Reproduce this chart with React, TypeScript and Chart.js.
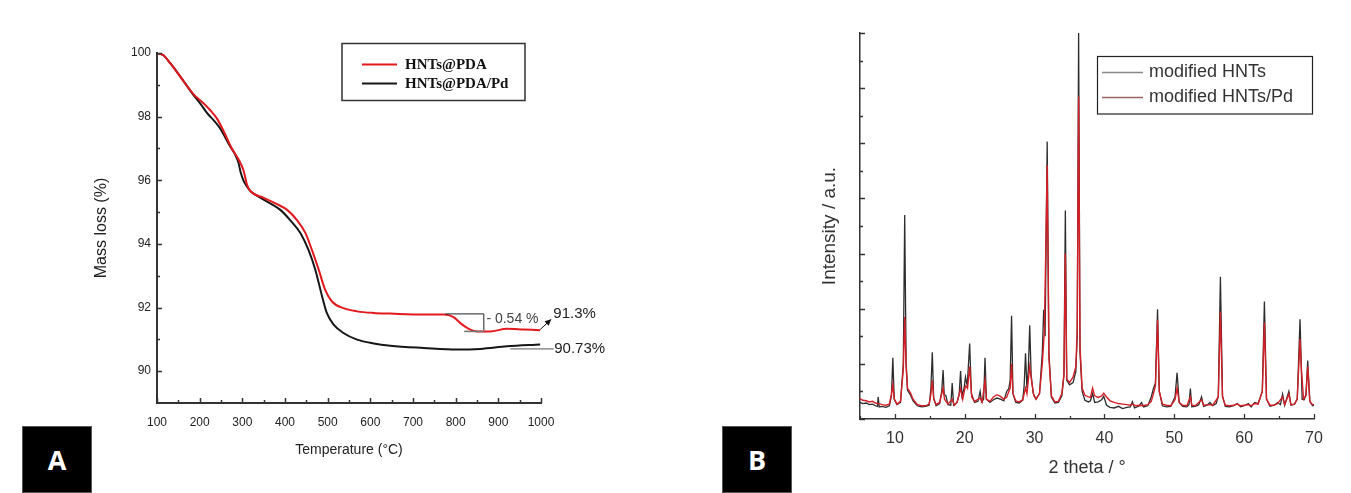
import React, { useEffect, useRef } from "react";
import { Chart, registerables } from "chart.js";

Chart.register(...registerables);

// ---------------- Panel A : TGA ----------------
const tgaPdaTemp = [100, 115, 131, 155, 186, 209, 225, 241, 256, 276, 291, 303, 311, 319, 350, 381, 405, 428, 448, 463, 479, 494, 510, 537, 569, 608, 647, 725, 772, 795, 811, 827, 850, 881, 920, 959, 998];
const tgaPdaMass = [100, 99.93, 99.68, 99.25, 98.7, 98.42, 98.2, 97.93, 97.55, 96.98, 96.66, 96.3, 95.86, 95.66, 95.45, 95.25, 95.07, 94.75, 94.34, 93.81, 93.19, 92.56, 92.19, 91.98, 91.88, 91.83, 91.81, 91.78, 91.78, 91.7, 91.51, 91.36, 91.25, 91.25, 91.33, 91.31, 91.29];
const tgaPdaPdTemp = [100, 115, 131, 155, 186, 202, 217, 233, 248, 272, 284, 291, 296, 303, 310, 319, 334, 358, 389, 412, 436, 455, 471, 487, 498, 514, 537, 569, 608, 647, 725, 803, 858, 920, 998];
const tgaPdaPdMass = [100, 99.93, 99.68, 99.25, 98.67, 98.4, 98.12, 97.88, 97.63, 97.05, 96.79, 96.55, 96.25, 95.98, 95.82, 95.66, 95.52, 95.33, 95.07, 94.75, 94.34, 93.81, 93.19, 92.35, 91.83, 91.46, 91.2, 90.99, 90.87, 90.8, 90.73, 90.68, 90.7, 90.78, 90.84];
const tgaXTicks = [100, 200, 300, 400, 500, 600, 700, 800, 900, 1000];
const tgaXMinor = [150, 250, 350, 450, 550, 650, 750, 850, 950];
const tgaYTicks = [90, 92, 94, 96, 98, 100];
const tgaYMinor = [91, 93, 95, 97, 99];
const tgaLegend = ["HNTs@PDA", "HNTs@PDA/Pd"];
const stepLossText = "- 0.54 %";
const pdaFinalText = "91.3%";
const pdaPdFinalText = "90.73%";

// ---------------- Panel B : XRD ----------------
const hntsPattern: [number, number][] = [
  [5.0, 0.3], [5.4, 0.28], [5.9, 0.29], [6.3, 0.26], [6.8, 0.27], [7.2, 0.24], [7.5, 0.23], [7.6, 0.4], [7.75, 0.22],
  [8.2, 0.23], [8.7, 0.21], [9.2, 0.24], [9.5, 0.42], [9.7, 1.11], [9.9, 0.36], [10.3, 0.26], [10.8, 0.3],
  [11.2, 1.0], [11.4, 3.7], [11.6, 1.05], [11.8, 0.52], [12.2, 0.44], [12.6, 0.33], [13.2, 0.24], [13.8, 0.22],
  [14.4, 0.23], [14.9, 0.25], [15.15, 0.55], [15.35, 1.21], [15.55, 0.38], [15.9, 0.24], [16.4, 0.28], [16.7, 0.5],
  [16.9, 0.89], [17.05, 0.45], [17.3, 0.42], [17.6, 0.26], [18.0, 0.25], [18.2, 0.65], [18.4, 0.25], [18.9, 0.3],
  [19.2, 0.45], [19.4, 0.87], [19.6, 0.42], [19.9, 0.56], [20.1, 0.76], [20.35, 0.6], [20.7, 1.37], [20.95, 0.46],
  [21.4, 0.3], [21.9, 0.32], [22.2, 0.5], [22.4, 0.31], [22.7, 0.36], [22.9, 1.11], [23.1, 0.36], [23.6, 0.3],
  [24.1, 0.35], [24.6, 0.38], [25.1, 0.36], [25.6, 0.33], [26.0, 0.5], [26.3, 0.55], [26.5, 0.7], [26.7, 1.87],
  [26.9, 0.46], [27.3, 0.3], [27.8, 0.29], [28.3, 0.34], [28.5, 0.6], [28.7, 1.19], [28.9, 0.56], [29.1, 0.9],
  [29.3, 1.7], [29.5, 0.8], [29.8, 0.46], [30.2, 0.36], [30.7, 0.46], [31.1, 1.2], [31.3, 1.98], [31.5, 1.5],
  [31.8, 5.03], [32.05, 1.2], [32.4, 0.4], [32.9, 0.29], [33.4, 0.3], [33.9, 0.42], [34.2, 0.8], [34.4, 3.78],
  [34.6, 0.7], [35.0, 0.62], [35.5, 0.66], [35.9, 0.86], [36.1, 1.5], [36.3, 7.0], [36.5, 1.2], [36.8, 0.5],
  [37.2, 0.34], [37.7, 0.31], [38.0, 0.33], [38.3, 0.46], [38.6, 0.3], [39.1, 0.31], [39.6, 0.35], [39.9, 0.41],
  [40.3, 0.25], [40.8, 0.21], [41.4, 0.2], [42.0, 0.23], [42.6, 0.19], [43.2, 0.21], [43.7, 0.22], [44.0, 0.31],
  [44.3, 0.2], [44.9, 0.23], [45.3, 0.3], [45.6, 0.22], [46.2, 0.24], [46.7, 0.4], [47.0, 0.55], [47.3, 0.65],
  [47.6, 1.99], [47.85, 0.5], [48.3, 0.24], [48.9, 0.22], [49.5, 0.23], [50.1, 0.4], [50.4, 0.84], [50.7, 0.3],
  [51.2, 0.23], [51.8, 0.22], [52.1, 0.26], [52.3, 0.55], [52.5, 0.22], [53.0, 0.23], [53.5, 0.26], [53.9, 0.4],
  [54.2, 0.23], [54.7, 0.25], [55.1, 0.3], [55.5, 0.24], [56.0, 0.28], [56.3, 0.42], [56.6, 2.58], [56.9, 0.42],
  [57.3, 0.23], [57.9, 0.22], [58.5, 0.24], [59.0, 0.28], [59.5, 0.22], [60.0, 0.24], [60.6, 0.28], [61.0, 0.22],
  [61.5, 0.3], [62.0, 0.28], [62.6, 0.5], [62.9, 2.13], [63.2, 0.36], [63.7, 0.23], [64.3, 0.25], [64.8, 0.3],
  [65.2, 0.26], [65.5, 0.45], [65.8, 0.25], [66.4, 0.5], [66.7, 0.25], [67.2, 0.27], [67.6, 0.36], [68.0, 1.81],
  [68.3, 0.36], [68.6, 0.35], [68.85, 0.45], [69.1, 1.06], [69.4, 0.32], [69.8, 0.24], [70.0, 0.25],
];
const hntsPdPattern: [number, number][] = [
  [5.0, 0.37], [5.4, 0.34], [5.9, 0.33], [6.3, 0.31], [6.8, 0.32], [7.2, 0.29], [7.6, 0.28], [8.2, 0.26],
  [8.7, 0.25], [9.2, 0.27], [9.5, 0.45], [9.7, 0.62], [9.9, 0.36], [10.3, 0.27], [10.8, 0.32], [11.2, 0.9],
  [11.4, 1.85], [11.6, 0.95], [11.8, 0.56], [12.2, 0.48], [12.6, 0.36], [13.2, 0.26], [13.8, 0.24], [14.4, 0.24],
  [14.9, 0.27], [15.15, 0.45], [15.35, 0.7], [15.55, 0.36], [15.9, 0.26], [16.4, 0.3], [16.9, 0.56], [17.1, 0.36],
  [17.6, 0.27], [18.2, 0.36], [18.5, 0.25], [18.9, 0.3], [19.4, 0.55], [19.7, 0.36], [20.1, 0.6], [20.4, 0.56],
  [20.7, 0.95], [21.0, 0.4], [21.4, 0.32], [22.2, 0.38], [22.5, 0.31], [22.9, 0.7], [23.1, 0.36], [23.6, 0.32],
  [24.1, 0.4], [24.6, 0.44], [25.1, 0.41], [25.6, 0.36], [26.0, 0.4], [26.5, 0.56], [26.7, 1.0], [26.9, 0.46],
  [27.3, 0.33], [27.8, 0.31], [28.3, 0.35], [28.7, 0.56], [28.9, 0.46], [29.3, 0.95], [29.6, 0.66], [29.9, 0.42],
  [30.2, 0.36], [30.7, 0.46], [31.1, 1.0], [31.4, 1.6], [31.8, 4.6], [32.05, 1.1], [32.4, 0.42], [32.9, 0.31],
  [33.4, 0.32], [33.9, 0.46], [34.2, 0.8], [34.4, 3.0], [34.6, 0.72], [35.0, 0.66], [35.5, 0.76], [35.9, 0.95],
  [36.1, 1.6], [36.3, 5.85], [36.5, 1.3], [36.8, 0.56], [37.2, 0.43], [37.7, 0.4], [38.0, 0.39], [38.3, 0.56],
  [38.6, 0.42], [39.1, 0.39], [39.6, 0.42], [39.9, 0.47], [40.3, 0.4], [40.8, 0.33], [41.4, 0.3], [42.0, 0.28],
  [42.6, 0.27], [43.2, 0.26], [43.7, 0.25], [44.0, 0.27], [44.5, 0.24], [45.0, 0.25], [45.5, 0.24], [46.2, 0.26],
  [46.7, 0.32], [47.0, 0.45], [47.3, 0.6], [47.6, 1.8], [47.85, 0.5], [48.3, 0.27], [48.9, 0.25], [49.5, 0.24],
  [50.1, 0.35], [50.4, 0.56], [50.7, 0.3], [51.2, 0.25], [51.8, 0.24], [52.3, 0.4], [52.5, 0.25], [53.0, 0.24],
  [53.9, 0.35], [54.2, 0.25], [55.0, 0.26], [55.5, 0.25], [56.3, 0.4], [56.6, 1.95], [56.9, 0.4], [57.3, 0.25],
  [57.9, 0.24], [58.5, 0.25], [59.0, 0.27], [59.5, 0.24], [60.0, 0.25], [60.6, 0.26], [61.0, 0.24], [61.5, 0.28],
  [62.0, 0.27], [62.6, 0.5], [62.9, 1.75], [63.2, 0.36], [63.7, 0.25], [64.3, 0.25], [64.8, 0.28], [65.5, 0.4],
  [65.8, 0.26], [66.4, 0.45], [66.7, 0.26], [67.2, 0.27], [67.6, 0.36], [68.0, 1.45], [68.2, 0.9], [68.5, 0.36],
  [68.85, 0.42], [69.1, 0.95], [69.4, 0.32], [69.8, 0.26], [70.0, 0.26],
];
const xrdXTicks = [10, 20, 30, 40, 50, 60, 70];
const xrdXMinor = [5, 15, 25, 35, 45, 55, 65];
const xrdYTicks = [0, 1, 2, 3, 4, 5, 6, 7];
const xrdYMinor = [0.5, 1.5, 2.5, 3.5, 4.5, 5.5, 6.5];
const xrdLegend = ["modified HNTs", "modified HNTs/Pd"];

const SANS = "'Liberation Sans', Arial, sans-serif";
const NARROW = "'Liberation Sans Narrow', 'Arial Narrow', 'Liberation Sans', sans-serif";
const SERIF = "'Liberation Serif', 'Times New Roman', serif";

const RED_A = "#e3191e";
const BLACK_A = "#161616";
const RED_B = "#d41f26";
const BLACK_B = "#2d2d2d";

function inwardTicks(id: string, o: any) {
  return {
    id,
    afterDatasetsDraw(chart: any) {
      const { ctx, chartArea: a, scales } = chart;
      ctx.save();
      ctx.strokeStyle = o.color;
      ctx.lineWidth = o.width;
      ctx.beginPath();
      const xs = (vals: number[], len: number) => {
        vals.forEach((v) => {
          const p = Math.round(scales.x.getPixelForValue(v)) + 0.5;
          ctx.moveTo(p, a.bottom);
          ctx.lineTo(p, a.bottom - len);
        });
      };
      const ys = (vals: number[], len: number) => {
        vals.forEach((v) => {
          const p = Math.round(scales.y.getPixelForValue(v)) + 0.5;
          ctx.moveTo(a.left, p);
          ctx.lineTo(a.left + len, p);
        });
      };
      xs(o.xMajor, o.major);
      xs(o.xMinor, o.minor);
      ys(o.yMajor, o.major);
      ys(o.yMinor, o.minor);
      ctx.stroke();
      ctx.restore();
    },
  };
}

const tgaDecor = {
  id: "tgaDecor",
  afterDatasetsDraw(chart: any) {
    const { ctx, scales } = chart;
    const px = (v: number) => scales.x.getPixelForValue(v);
    const py = (v: number) => scales.y.getPixelForValue(v);
    ctx.save();
    // bracket for the step loss
    ctx.strokeStyle = "#222";
    ctx.lineWidth = 1;
    ctx.beginPath();
    ctx.moveTo(px(776), py(91.8));
    ctx.lineTo(px(866), py(91.8));
    ctx.lineTo(px(866), py(91.28));
    ctx.stroke();
    ctx.strokeStyle = "#777";
    ctx.lineWidth = 1.6;
    ctx.beginPath();
    ctx.moveTo(px(820), py(91.25));
    ctx.lineTo(px(866), py(91.25));
    ctx.stroke();
    // leader for 90.73 %
    ctx.strokeStyle = "#555";
    ctx.lineWidth = 1;
    ctx.beginPath();
    ctx.moveTo(px(928), py(90.7));
    ctx.lineTo(px(1030), py(90.7));
    ctx.stroke();
    // arrow for 91.3 %
    const x0 = px(998), y0 = py(91.31), x1 = px(1024), y1 = py(91.63);
    ctx.strokeStyle = "#111";
    ctx.fillStyle = "#111";
    ctx.lineWidth = 1;
    ctx.beginPath();
    ctx.moveTo(x0, y0);
    ctx.lineTo(x1, y1);
    ctx.stroke();
    const ang = Math.atan2(y1 - y0, x1 - x0);
    ctx.beginPath();
    ctx.moveTo(x1, y1);
    ctx.lineTo(x1 - 7 * Math.cos(ang - 0.45), y1 - 7 * Math.sin(ang - 0.45));
    ctx.lineTo(x1 - 7 * Math.cos(ang + 0.45), y1 - 7 * Math.sin(ang + 0.45));
    ctx.closePath();
    ctx.fill();
    // texts
    ctx.textBaseline = "middle";
    ctx.textAlign = "left";
    ctx.fillStyle = "#444";
    ctx.font = `14px ${NARROW}`;
    ctx.fillText(stepLossText, px(872), py(91.62));
    ctx.fillStyle = "#222";
    ctx.font = `15px ${SANS}`;
    ctx.fillText(pdaFinalText, px(1029), py(91.8));
    ctx.fillText(pdaPdFinalText, px(1031), py(90.7));
    // legend
    ctx.strokeStyle = "#333";
    ctx.lineWidth = 1.5;
    ctx.strokeRect(342, 43.5, 183, 57);
    ctx.lineWidth = 2;
    ctx.strokeStyle = RED_A;
    ctx.beginPath();
    ctx.moveTo(362, 64.5);
    ctx.lineTo(397, 64.5);
    ctx.stroke();
    ctx.strokeStyle = BLACK_A;
    ctx.beginPath();
    ctx.moveTo(362, 83.5);
    ctx.lineTo(397, 83.5);
    ctx.stroke();
    ctx.fillStyle = "#111";
    ctx.font = `bold 15px ${SERIF}`;
    ctx.fillText(tgaLegend[0], 405, 65);
    ctx.fillText(tgaLegend[1], 405, 84);
    ctx.restore();
  },
};

const xrdLegendPlugin = {
  id: "xrdLegend",
  afterDatasetsDraw(chart: any) {
    const { ctx } = chart;
    ctx.save();
    ctx.fillStyle = "#fff";
    ctx.fillRect(397.5, 56.5, 215, 57.5);
    ctx.strokeStyle = "#222";
    ctx.lineWidth = 1.2;
    ctx.strokeRect(397.5, 56.5, 215, 57.5);
    ctx.lineWidth = 1.3;
    ctx.strokeStyle = "#8a8a8a";
    ctx.beginPath();
    ctx.moveTo(402, 72.5);
    ctx.lineTo(443, 72.5);
    ctx.stroke();
    ctx.strokeStyle = "#9a6464";
    ctx.beginPath();
    ctx.moveTo(402, 97.5);
    ctx.lineTo(443, 97.5);
    ctx.stroke();
    ctx.fillStyle = "#333";
    ctx.font = `18px ${SANS}`;
    ctx.textBaseline = "middle";
    ctx.fillText(xrdLegend[0], 449, 72);
    ctx.fillText(xrdLegend[1], 449, 97);
    ctx.restore();
  },
};

const plainLabel = (v: any) => String(v);

function makeTga(canvas: HTMLCanvasElement) {
  return new Chart(canvas, {
    type: "line",
    data: {
      datasets: [
        {
          label: tgaLegend[0],
          data: tgaPdaTemp.map((t, i) => ({ x: t, y: tgaPdaMass[i] })),
          borderColor: RED_A,
          borderWidth: 2,
          pointRadius: 0,
          cubicInterpolationMode: "monotone",
          order: 0,
        },
        {
          label: tgaLegend[1],
          data: tgaPdaPdTemp.map((t, i) => ({ x: t, y: tgaPdaPdMass[i] })),
          borderColor: BLACK_A,
          borderWidth: 2,
          pointRadius: 0,
          cubicInterpolationMode: "monotone",
          order: 1,
        },
      ],
    },
    options: {
      responsive: false,
      animation: false,
      layout: { padding: { left: 0, top: 53, right: 159, bottom: 0 } },
      plugins: { legend: { display: false }, tooltip: { enabled: false } },
      scales: {
        x: {
          type: "linear",
          min: 100,
          max: 1000,
          afterBuildTicks: (s: any) => {
            s.ticks = tgaXTicks.map((v) => ({ value: v }));
          },
          afterFit: (s: any) => {
            s.height = 90;
          },
          grid: { display: false, drawTicks: false },
          border: { display: true, color: "#333", width: 2 },
          ticks: { padding: 12, color: "#222", autoSkip: false, maxRotation: 0, callback: plainLabel, font: { family: NARROW, size: 12 } },
          title: {
            display: true,
            text: "Temperature (°C)",
            color: "#222",
            font: { family: SANS, size: 14 },
            padding: { top: 0, bottom: 34 },
          },
        },
        y: {
          min: 89,
          max: 100,
          afterBuildTicks: (s: any) => {
            s.ticks = tgaYTicks.map((v) => ({ value: v }));
          },
          afterFit: (s: any) => {
            s.width = 157;
          },
          grid: { display: false, drawTicks: false },
          border: { display: true, color: "#333", width: 2 },
          ticks: { padding: 6, color: "#222", autoSkip: false, callback: plainLabel, font: { family: NARROW, size: 12 } },
          title: {
            display: true,
            text: "Mass loss (%)",
            color: "#222",
            font: { family: SANS, size: 16 },
            padding: { top: 92, bottom: 0 },
          },
        },
      },
    },
    plugins: [
      inwardTicks("tgaTicks", { color: "#333", width: 1.5, major: 5, minor: 3, xMajor: tgaXTicks, xMinor: tgaXMinor, yMajor: tgaYTicks, yMinor: tgaYMinor }),
      tgaDecor,
    ],
  } as any);
}

function makeXrd(canvas: HTMLCanvasElement) {
  return new Chart(canvas, {
    type: "line",
    data: {
      datasets: [
        {
          label: xrdLegend[1],
          data: hntsPdPattern.map(([x, y]) => ({ x, y })),
          borderColor: RED_B,
          borderWidth: 1.4,
          pointRadius: 0,
          tension: 0,
          order: 0,
        },
        {
          label: xrdLegend[0],
          data: hntsPattern.map(([x, y]) => ({ x, y })),
          borderColor: BLACK_B,
          borderWidth: 1.3,
          pointRadius: 0,
          tension: 0,
          order: 1,
        },
      ],
    },
    options: {
      responsive: false,
      animation: false,
      layout: { padding: { left: 0, top: 33, right: 37, bottom: 0 } },
      plugins: { legend: { display: false }, tooltip: { enabled: false } },
      scales: {
        x: {
          type: "linear",
          min: 5,
          max: 70,
          afterBuildTicks: (s: any) => {
            s.ticks = xrdXTicks.map((v) => ({ value: v }));
          },
          afterFit: (s: any) => {
            s.height = 74;
          },
          grid: { display: false, drawTicks: false },
          border: { display: true, color: "#333", width: 1.5 },
          ticks: { padding: 9.5, color: "#333", autoSkip: false, maxRotation: 0, callback: plainLabel, font: { family: SANS, size: 16 } },
          title: {
            display: true,
            text: "2 theta / °",
            color: "#333",
            font: { family: SANS, size: 18 },
            padding: { top: 0, bottom: 14 },
          },
        },
        y: {
          min: 0,
          max: 7,
          afterFit: (s: any) => {
            s.width = 160;
          },
          grid: { display: false, drawTicks: false },
          border: { display: true, color: "#333", width: 1.5 },
          ticks: { display: false },
          title: {
            display: true,
            text: "Intensity / a.u.",
            color: "#333",
            font: { family: SANS, size: 19 },
            padding: { top: 118, bottom: 0 },
          },
        },
      },
    },
    plugins: [
      inwardTicks("xrdTicks", { color: "#333", width: 1.3, major: 5, minor: 3, xMajor: xrdXTicks, xMinor: xrdXMinor, yMajor: xrdYTicks, yMinor: xrdYMinor }),
      xrdLegendPlugin,
    ],
  } as any);
}

const panelBox = (left: number): React.CSSProperties => ({
  position: "absolute",
  left,
  top: 426,
  width: 70,
  height: 67,
  boxSizing: "border-box",
  border: "1px solid #555",
  background: "#000",
  color: "#fff",
  display: "flex",
  alignItems: "center",
  justifyContent: "center",
  fontFamily: "'Open Sans', 'Liberation Sans', sans-serif",
  fontWeight: 700,
  fontSize: 27,
});

export default function App() {
  const refA = useRef<HTMLCanvasElement>(null);
  const refB = useRef<HTMLCanvasElement>(null);
  useEffect(() => {
    const a = makeTga(refA.current as HTMLCanvasElement);
    const b = makeXrd(refB.current as HTMLCanvasElement);
    return () => {
      a.destroy();
      b.destroy();
    };
  }, []);
  return (
    <div style={{ position: "absolute", left: 0, top: 0, width: 1351, height: 493, background: "#fff", overflow: "hidden" }}>
      <canvas ref={refA} width={700} height={493} style={{ position: "absolute", left: 0, top: 0 }} />
      <canvas ref={refB} width={651} height={493} style={{ position: "absolute", left: 700, top: 0 }} />
      <div style={panelBox(22)}>A</div>
      <div style={panelBox(722)}>B</div>
    </div>
  );
}
